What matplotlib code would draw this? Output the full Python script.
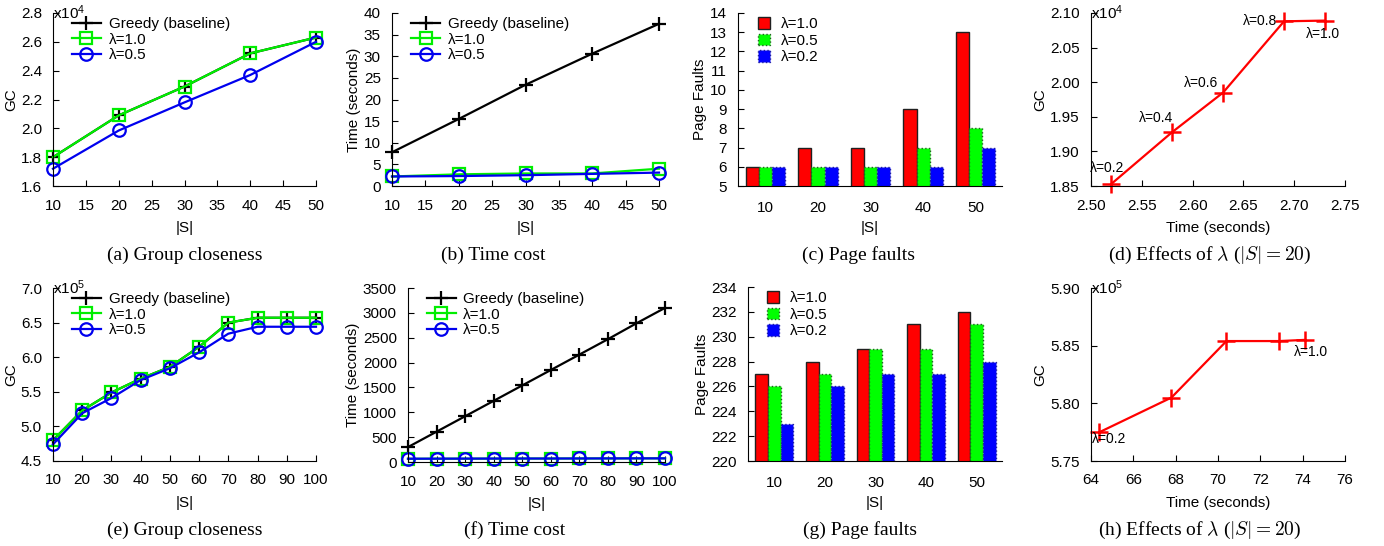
import matplotlib
matplotlib.use("Agg")
import matplotlib.pyplot as plt
import numpy as np

plt.rcParams['font.family'] = ['Liberation Sans', 'DejaVu Sans']
plt.rcParams['mathtext.fontset'] = 'custom'
plt.rcParams['mathtext.rm'] = 'Liberation Sans'
plt.rcParams['mathtext.it'] = 'Liberation Sans:italic'
plt.rcParams['font.size'] = 11

# ---------------- data ----------------
# (a) group closeness, small graph (x1e4)
s_small = [10, 20, 30, 40, 50]
gc_a_greedy = [1.80, 2.09, 2.29, 2.52, 2.63]
gc_a_l10 = [1.80, 2.09, 2.29, 2.52, 2.63]
gc_a_l05 = [1.72, 1.985, 2.18, 2.37, 2.60]

# (b) time cost, small graph (seconds)
t_b_greedy = [7.8, 15.5, 23.4, 30.6, 37.5]
t_b_l10 = [2.2, 2.7, 2.9, 2.9, 4.0]
t_b_l05 = [2.2, 2.3, 2.5, 2.8, 3.1]

# (c) page faults, small graph
pf_c_l10 = [6, 7, 7, 9, 13]
pf_c_l05 = [6, 6, 6, 7, 8]
pf_c_l02 = [6, 6, 6, 6, 7]

# (d) effects of lambda, small graph
t_d = [2.52, 2.58, 2.63, 2.69, 2.73]
gc_d = [1.853, 1.928, 1.985, 2.088, 2.089]
lam_d = ['λ=0.2', 'λ=0.4', 'λ=0.6', 'λ=0.8', 'λ=1.0']

# (e) group closeness, large graph (x1e5)
s_large = [10, 20, 30, 40, 50, 60, 70, 80, 90, 100]
gc_e_greedy = [4.80, 5.23, 5.49, 5.69, 5.86, 6.15, 6.50, 6.57, 6.57, 6.57]
gc_e_l10 = [4.80, 5.23, 5.49, 5.69, 5.86, 6.15, 6.50, 6.57, 6.57, 6.57]
gc_e_l05 = [4.74, 5.19, 5.41, 5.67, 5.84, 6.07, 6.34, 6.44, 6.44, 6.44]

# (f) time cost, large graph (seconds)
t_f_greedy = [300, 610, 920, 1230, 1540, 1850, 2160, 2470, 2790, 3100]
t_f_l10 = [64, 66, 67, 68, 69, 70, 71, 72, 73, 74]
t_f_l05 = [66, 67, 68, 69, 70, 70, 71, 72, 73, 73]

# (g) page faults, large graph
pf_g_l10 = [227, 228, 229, 231, 232]
pf_g_l05 = [226, 227, 229, 229, 231]
pf_g_l02 = [223, 226, 227, 227, 228]

# (h) effects of lambda, large graph (x1e5)
t_h = [64.4, 67.8, 70.4, 72.9, 74.1]
gc_h = [5.775, 5.805, 5.854, 5.854, 5.855]

W, H = 1384, 546
FS = 11
fig = plt.figure(figsize=(W / 100, H / 100), dpi=100)


def px_axes(l, t, r, b):
    ax = fig.add_axes([l / W, 1 - b / H, (r - l) / W, (b - t) / H])
    ax.spines['top'].set_visible(False)
    ax.spines['right'].set_visible(False)
    ax.tick_params(direction='in', length=4, labelsize=FS)
    ax.tick_params(axis='x', pad=9)
    ax.tick_params(axis='y', pad=8)
    return ax


def labels(ax, xl, yl):
    ax.set_xlabel(xl, fontsize=FS, labelpad=6)
    ax.set_ylabel(yl, fontsize=FS, labelpad=2)


def caption(x, y, txt):
    fig.text(x / W, 1 - y / H, txt, ha='center', va='center',
             family='Liberation Serif', fontsize=14, math_fontfamily='cm')


def line_panel(ax, x, greedy, l10, l05):
    ax.plot(x, greedy, color='black', lw=1.6, marker='+', ms=10, mew=1.6,
            label='Greedy (baseline)', zorder=2, clip_on=False)
    ax.plot(x, l10, color='#00ee00', lw=1.6, marker='s', ms=8, mew=1.6,
            mfc='none', label='λ=1.0', zorder=2.1, clip_on=False)
    ax.plot(x, l05, color='#0000ee', lw=1.6, marker='o', ms=9, mew=1.6,
            mfc='none', label='λ=0.5', zorder=2.2, clip_on=False)
    ax.legend(loc='upper left', frameon=False, fontsize=FS, handlelength=1.9,
              handletextpad=0.5, borderaxespad=0.1, labelspacing=0.1,
              bbox_to_anchor=(0.043, 1.02))


def bar_panel(ax, a, b, c):
    pos = np.arange(len(a))
    w = 0.25
    ax.bar(pos - w, a, w, color='#ff0000', edgecolor='#202020', lw=1,
           label='λ=1.0')
    ax.bar(pos, b, w, color='#00ff00', edgecolor='#206020', lw=1, ls=':',
           label='λ=0.5')
    ax.bar(pos + w, c, w, color='#0000ff', edgecolor='#2020a0', lw=1, ls=':',
           label='λ=0.2')
    ax.set_xlim(-0.52, 4.5)
    ax.set_xticks(pos)
    ax.set_xticklabels([str(v) for v in s_small])
    ax.tick_params(axis='x', length=0, pad=11)
    ax.set_xlabel('|S|', fontsize=FS, labelpad=4)
    ax.set_ylabel('Page Faults', fontsize=FS, labelpad=2)
    ax.legend(loc='upper left', frameon=False, fontsize=FS, handlelength=0.8,
              handleheight=0.8, handletextpad=0.7, borderaxespad=0.1,
              labelspacing=0.15, bbox_to_anchor=(0.045, 1.02))


# (a)
ax = px_axes(53, 13, 316, 186)
line_panel(ax, s_small, gc_a_greedy, gc_a_l10, gc_a_l05)
ax.set_xlim(10, 50)
ax.set_ylim(1.6, 2.8)
ax.set_xticks(range(10, 51, 5))
ax.set_yticks(np.arange(1.6, 2.81, 0.2))
ax.set_yticklabels(['%.1f' % v for v in np.arange(1.6, 2.81, 0.2)])
labels(ax, '|S|', 'GC')
ax.text(0.0, 1.0, 'x10$^4$', transform=ax.transAxes, fontsize=FS, va='center')
caption(185, 255, '(a) Group closeness')

# (b)
ax = px_axes(392, 13, 659, 186)
line_panel(ax, s_small, t_b_greedy, t_b_l10, t_b_l05)
ax.set_xlim(10, 50)
ax.set_ylim(0, 40)
ax.set_xticks(range(10, 51, 5))
ax.set_yticks(range(0, 41, 5))
labels(ax, '|S|', 'Time (seconds)')
caption(493, 255, '(b) Time cost')

# (c)
ax = px_axes(738, 13, 1002, 186)
bar_panel(ax, pf_c_l10, pf_c_l05, pf_c_l02)
ax.set_ylim(5, 14)
ax.set_yticks(range(5, 15))
caption(858, 255, '(c) Page faults')

# (d)
ax = px_axes(1091, 13, 1345, 186)
ax.plot(t_d, gc_d, color='#ff0000', lw=1.6, marker='+', ms=13, mew=1.8,
        clip_on=False)
ax.set_xlim(2.50, 2.75)
ax.set_ylim(1.85, 2.10)
ax.set_xticks(np.arange(2.50, 2.751, 0.05))
ax.set_xticklabels(['%.2f' % v for v in np.arange(2.50, 2.751, 0.05)])
ax.set_yticks(np.arange(1.85, 2.101, 0.05))
ax.set_yticklabels(['%.2f' % v for v in np.arange(1.85, 2.101, 0.05)])
labels(ax, 'Time (seconds)', 'GC')
ax.text(0.0, 1.0, 'x10$^4$', transform=ax.transAxes, fontsize=FS, va='center')
offs_d = [(-4, 16), (-16, 14), (-22, 10), (-24, 0), (-2, -13)]
for xv, yv, lab, (dx, dy) in zip(t_d, gc_d, lam_d, offs_d):
    ax.annotate(lab, (xv, yv), xytext=(dx, dy), textcoords='offset pixels',
                ha='center', va='center', fontsize=10, annotation_clip=False)
caption(1210, 255, r'(d) Effects of $\lambda$ ($|S| = 20$)')

# (e)
ax = px_axes(53, 288, 316, 461)
line_panel(ax, s_large, gc_e_greedy, gc_e_l10, gc_e_l05)
ax.set_xlim(10, 100)
ax.set_ylim(4.5, 7.0)
ax.set_xticks(range(10, 101, 10))
ax.set_yticks(np.arange(4.5, 7.01, 0.5))
ax.set_yticklabels(['%.1f' % v for v in np.arange(4.5, 7.01, 0.5)])
labels(ax, '|S|', 'GC')
ax.text(0.0, 1.0, 'x10$^5$', transform=ax.transAxes, fontsize=FS, va='center')
caption(185, 530, '(e) Group closeness')

# (f)
ax = px_axes(408, 288, 665, 462)
line_panel(ax, s_large, t_f_greedy, t_f_l10, t_f_l05)
ax.set_xlim(10, 100)
ax.set_ylim(0, 3500)
ax.set_xticks(range(10, 101, 10))
ax.set_yticks(range(0, 3501, 500))
labels(ax, '|S|', 'Time (seconds)')
caption(515, 530, '(f) Time cost')

# (g)
ax = px_axes(748, 287, 1002, 461)
bar_panel(ax, pf_g_l10, pf_g_l05, pf_g_l02)
ax.set_ylim(220, 234)
ax.set_yticks(range(220, 235, 2))
caption(860, 530, '(g) Page faults')

# (h)
ax = px_axes(1091, 288, 1345, 461)
ax.plot(t_h, gc_h, color='#ff0000', lw=1.6, marker='+', ms=13, mew=1.8,
        clip_on=False)
ax.set_xlim(64, 76)
ax.set_ylim(5.75, 5.90)
ax.set_xticks(range(64, 77, 2))
ax.set_yticks(np.arange(5.75, 5.901, 0.05))
ax.set_yticklabels(['%.2f' % v for v in np.arange(5.75, 5.901, 0.05)])
labels(ax, 'Time (seconds)', 'GC')
ax.text(0.0, 1.0, 'x10$^5$', transform=ax.transAxes, fontsize=FS, va='center')
ax.annotate('λ=0.2', (t_h[0], gc_h[0]), xytext=(10, -7), textcoords='offset pixels',
            ha='center', va='center', fontsize=10, annotation_clip=False)
ax.annotate('λ=1.0', (t_h[-1], gc_h[-1]), xytext=(6, -12), textcoords='offset pixels',
            ha='center', va='center', fontsize=10, annotation_clip=False)
caption(1200, 530, r'(h) Effects of $\lambda$ ($|S| = 20$)')

fig.savefig('out.png', dpi=100)
